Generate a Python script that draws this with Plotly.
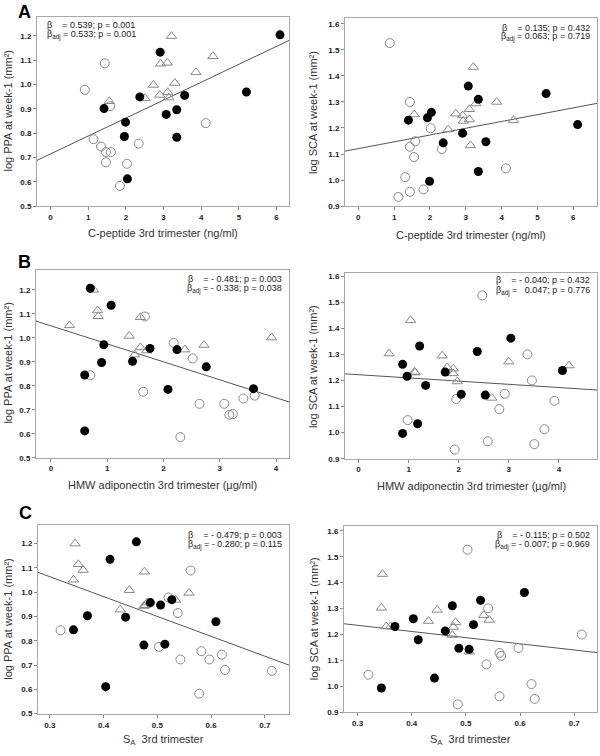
import plotly.graph_objects as go

# ---------------- data ----------------
# Panel A-left: C-peptide vs log PPA
a1_filled_x = [6.09, 2.91, 3.56, 2.37, 1.42, 1.99, 3.07, 3.35, 1.96, 3.35, 2.04, 5.20]
a1_filled_y = [1.204, 1.133, 0.955, 0.949, 0.901, 0.845, 0.877, 0.896, 0.786, 0.783, 0.612, 0.969]
a1_open_x = [0.91, 1.44, 1.58, 1.14, 1.34, 1.47, 1.60, 1.47, 2.03, 1.84, 2.34, 4.12]
a1_open_y = [0.978, 1.087, 0.911, 0.775, 0.745, 0.722, 0.722, 0.680, 0.674, 0.583, 0.757, 0.841]
a1_tri_x = [3.21, 2.92, 3.10, 4.31, 3.86, 2.73, 3.30, 3.11, 2.90, 3.14, 2.51, 1.56]
a1_tri_y = [1.199, 1.085, 1.089, 1.116, 1.050, 0.998, 1.006, 0.968, 0.957, 0.946, 0.943, 0.931]
a1_fit = (0.7145, 0.0737)  # intercept, slope

# Panel A-right: C-peptide vs log SCA
a2_filled_x = [1.40, 1.93, 2.04, 2.37, 2.91, 3.07, 3.35, 3.35, 3.56, 5.24, 6.12, 1.99]
a2_filled_y = [1.230, 1.239, 1.260, 1.143, 1.180, 1.361, 1.310, 1.033, 1.147, 1.332, 1.213, 0.995]
a2_open_x = [0.88, 1.44, 1.44, 1.59, 1.56, 1.31, 1.44, 1.12, 1.82, 2.02, 2.33, 4.12]
a2_open_y = [1.526, 1.300, 1.128, 1.149, 1.088, 1.011, 0.955, 0.935, 0.964, 1.199, 1.119, 1.045]
a2_tri_x = [3.21, 3.86, 3.28, 3.10, 2.72, 2.91, 2.93, 3.10, 4.33, 2.51, 1.56, 3.13]
a2_tri_y = [1.434, 1.300, 1.294, 1.272, 1.255, 1.248, 1.227, 1.233, 1.230, 1.194, 1.252, 1.133]
a2_fit = (1.1207, 0.0261)

# Panel B-left: HMW adiponectin vs log PPA
b1_filled_x = [0.70, 1.07, 0.94, 0.90, 0.60, 0.60, 1.45, 1.76, 2.08, 2.24, 2.76, 3.60]
b1_filled_y = [1.207, 1.136, 0.971, 0.897, 0.845, 0.612, 0.902, 0.956, 0.785, 0.951, 0.879, 0.788]
b1_open_x = [0.70, 1.67, 2.18, 2.52, 1.64, 2.64, 2.30, 3.08, 3.17, 3.23, 3.42, 3.62]
b1_open_y = [0.844, 1.089, 0.979, 0.914, 0.775, 0.725, 0.586, 0.725, 0.679, 0.682, 0.747, 0.759]
b1_tri_x = [0.76, 0.83, 0.84, 0.33, 1.59, 1.39, 1.59, 1.70, 1.49, 2.38, 2.72, 3.92]
b1_tri_y = [1.200, 1.114, 1.090, 1.052, 1.086, 1.008, 0.960, 0.947, 0.930, 0.951, 0.970, 1.001]
b1_fit = (1.050, -0.075)

# Panel B-right: HMW adiponectin vs log SCA
b2_filled_x = [1.22, 0.88, 0.97, 1.34, 1.73, 2.37, 3.04, 2.05, 2.53, 1.18, 0.88, 4.07]
b2_filled_y = [1.332, 1.262, 1.216, 1.181, 1.232, 1.311, 1.362, 1.147, 1.144, 1.034, 0.997, 1.238]
b2_open_x = [2.47, 3.37, 3.46, 2.92, 2.81, 1.95, 3.91, 3.71, 3.51, 2.58, 1.92, 0.98]
b2_open_y = [1.526, 1.300, 1.200, 1.149, 1.090, 1.129, 1.122, 1.013, 0.956, 0.967, 0.935, 1.048]
b2_tri_x = [0.61, 1.04, 1.67, 1.12, 1.13, 1.77, 1.89, 1.89, 1.97, 2.66, 3.00, 4.20]
b2_tri_y = [1.303, 1.431, 1.295, 1.233, 1.230, 1.250, 1.245, 1.227, 1.196, 1.133, 1.272, 1.257]
b2_fit = (1.222, -0.0123)

# Panel C-left: S_A vs log PPA
c1_filled_x = [0.461, 0.412, 0.370, 0.344, 0.441, 0.487, 0.506, 0.527, 0.475, 0.514, 0.404, 0.609]
c1_filled_y = [1.207, 1.135, 0.903, 0.845, 0.897, 0.957, 0.947, 0.969, 0.782, 0.786, 0.611, 0.878]
c1_open_x = [0.320, 0.562, 0.521, 0.538, 0.503, 0.543, 0.582, 0.597, 0.620, 0.626, 0.578, 0.713]
c1_open_y = [0.843, 1.089, 0.978, 0.914, 0.775, 0.723, 0.757, 0.723, 0.743, 0.680, 0.582, 0.676]
c1_tri_x = [0.347, 0.353, 0.362, 0.344, 0.448, 0.431, 0.476, 0.475, 0.481, 0.534, 0.559, 0.478]
c1_tri_y = [1.200, 1.115, 1.091, 1.051, 1.008, 0.928, 1.084, 0.943, 0.957, 0.968, 0.997, 0.946]
c1_fit = (1.309, -0.818)

# Panel C-right: S_A vs log SCA
c2_filled_x = [0.608, 0.527, 0.475, 0.403, 0.369, 0.514, 0.462, 0.412, 0.487, 0.506, 0.442, 0.344]
c2_filled_y = [1.362, 1.332, 1.311, 1.261, 1.231, 1.238, 1.214, 1.180, 1.147, 1.143, 1.032, 0.994]
c2_open_x = [0.503, 0.541, 0.714, 0.597, 0.562, 0.565, 0.538, 0.320, 0.621, 0.562, 0.627, 0.485]
c2_open_y = [1.527, 1.301, 1.200, 1.148, 1.129, 1.118, 1.085, 1.045, 1.009, 0.962, 0.952, 0.931]
c2_tri_x = [0.346, 0.344, 0.353, 0.361, 0.431, 0.447, 0.481, 0.477, 0.475, 0.533, 0.543, 0.506]
c2_tri_y = [1.433, 1.303, 1.231, 1.231, 1.252, 1.295, 1.247, 1.229, 1.198, 1.274, 1.256, 1.134]
c2_fit = (1.307, -0.238)

# statistics text
a1_stats = ("0.539; p = 0.001", "0.533; p = 0.001")
a2_stats = ("0.135; p = 0.432", "0.063; p = 0.719")
b1_stats = ("- 0.481; p = 0.003", "- 0.338; p = 0.038")
b2_stats = ("- 0.040; p = 0.432", "\u00a0\u00a00.047; p = 0.776")
c1_stats = ("- 0.479; p = 0.003", "- 0.280; p = 0.115")
c2_stats = ("- 0.115; p = 0.502", "- 0.007; p = 0.969")

x_title_cpep = "C-peptide 3rd trimester (ng/ml)"
x_title_adipo = "HMW adiponectin 3rd trimester (\u00b5g/ml)"
x_title_sa = "S<sub>A</sub>\u00a0\u00a03rd trimester"
y_title_ppa = "log PPA at week-1 (mm\u00b2)"
y_title_sca = "log SCA at week-1 (mm\u00b2)"

ticks_cpep = [0, 1, 2, 3, 4, 5, 6]
ticks_adipo = [0, 1, 2, 3, 4]
ticks_sa = [0.3, 0.4, 0.5, 0.6, 0.7]
ticks_ppa = [0.5, 0.6, 0.7, 0.8, 0.9, 1.0, 1.1, 1.2]
ticks_sca = [0.9, 1.0, 1.1, 1.2, 1.3, 1.4, 1.5, 1.6]

# ---------------- layout helpers ----------------
W, H = 600, 756
FONT = "Arial, 'Liberation Sans', sans-serif"

panels = [
    dict(px=(37, 289, 15, 206), xr=[-0.36, 6.33], yr=[0.5, 1.278],
         f=(a1_filled_x, a1_filled_y), o=(a1_open_x, a1_open_y), t=(a1_tri_x, a1_tri_y),
         fit=a1_fit, stats=a1_stats, side="left", sy=(23, 33),
         xt=x_title_cpep, yt=y_title_ppa, xtv=ticks_cpep, ytv=ticks_ppa, xty=233, ytx=8),
    dict(px=(345, 597, 16, 206), xr=[-0.37, 6.66], yr=[0.9, 1.623],
         f=(a2_filled_x, a2_filled_y), o=(a2_open_x, a2_open_y), t=(a2_tri_x, a2_tri_y),
         fit=a2_fit, stats=a2_stats, side="right", sy=(26, 35),
         xt=x_title_cpep, yt=y_title_sca, xtv=ticks_cpep, ytv=ticks_sca, xty=235, ytx=313),
    dict(px=(36, 289, 270, 460), xr=[-0.265, 4.23], yr=[0.5, 1.285],
         f=(b1_filled_x, b1_filled_y), o=(b1_open_x, b1_open_y), t=(b1_tri_x, b1_tri_y),
         fit=b1_fit, stats=b1_stats, side="right", sy=(280, 290),
         xt=x_title_adipo, yt=y_title_ppa, xtv=ticks_adipo, ytv=ticks_ppa, xty=488, ytx=8),
    dict(px=(345, 597, 274, 461), xr=[-0.27, 4.76], yr=[0.9, 1.61],
         f=(b2_filled_x, b2_filled_y), o=(b2_open_x, b2_open_y), t=(b2_tri_x, b2_tri_y),
         fit=b2_fit, stats=b2_stats, side="right", sy=(281, 292),
         xt=x_title_adipo, yt=y_title_sca, xtv=ticks_adipo, ytv=ticks_sca, xty=489, ytx=313),
    dict(px=(38, 289, 528, 719), xr=[0.278, 0.745], yr=[0.497, 1.276],
         f=(c1_filled_x, c1_filled_y), o=(c1_open_x, c1_open_y), t=(c1_tri_x, c1_tri_y),
         fit=c1_fit, stats=c1_stats, side="right", sy=(538, 548),
         xt=x_title_sa, yt=y_title_ppa, xtv=ticks_sa, ytv=ticks_ppa, xty=745, ytx=8),
    dict(px=(344, 597, 529, 717), xr=[0.275, 0.742], yr=[0.9, 1.618],
         f=(c2_filled_x, c2_filled_y), o=(c2_open_x, c2_open_y), t=(c2_tri_x, c2_tri_y),
         fit=c2_fit, stats=c2_stats, side="right", sy=(538, 548),
         xt=x_title_sa, yt=y_title_sca, xtv=ticks_sa, ytv=ticks_sca, xty=745, ytx=314),
]

fig = go.Figure()
layout = dict(
    width=W, height=H, margin=dict(l=0, r=0, t=0, b=0),
    paper_bgcolor="white", plot_bgcolor="white", showlegend=False,
    font=dict(family=FONT, color="#222"),
)
annotations = []

GRAY = "#8a8a8a"
for i, p in enumerate(panels, start=1):
    xa = "xaxis" if i == 1 else f"xaxis{i}"
    ya = "yaxis" if i == 1 else f"yaxis{i}"
    xref = "x" if i == 1 else f"x{i}"
    yref = "y" if i == 1 else f"y{i}"
    x0, x1, y0, y1 = p["px"]
    common = dict(showgrid=False, zeroline=False, showline=True, mirror=True,
                  linecolor="#a8a8a8", linewidth=1, ticks="outside", ticklen=3,
                  tickcolor="#888", tickwidth=1,
                  tickfont=dict(family=FONT, size=8, color="#222", weight="bold"))
    layout[xa] = dict(domain=[x0 / W, x1 / W], range=p["xr"], anchor=yref,
                      tickvals=p["xtv"], **common)
    layout[ya] = dict(domain=[1 - y1 / H, 1 - y0 / H], range=p["yr"], anchor=xref,
                      tickvals=p["ytv"], tickformat=".1f", **common)

    # regression line
    b0, b1 = p["fit"]
    lx = p["xr"]
    ly = [b0 + b1 * v for v in lx]
    fig.add_trace(go.Scatter(x=lx, y=ly, mode="lines", xaxis=xref, yaxis=yref,
                             line=dict(color="#555", width=1), hoverinfo="skip"))
    fig.add_trace(go.Scatter(x=p["o"][0], y=p["o"][1], mode="markers", xaxis=xref, yaxis=yref,
                             marker=dict(symbol="circle-open", size=9, color=GRAY,
                                         line=dict(width=1, color=GRAY))))
    fig.add_trace(go.Scatter(x=p["t"][0], y=p["t"][1], mode="markers", xaxis=xref, yaxis=yref,
                             marker=dict(symbol="triangle-up-open", size=9, color=GRAY,
                                         line=dict(width=1, color=GRAY))))
    fig.add_trace(go.Scatter(x=p["f"][0], y=p["f"][1], mode="markers", xaxis=xref, yaxis=yref,
                             marker=dict(symbol="circle", size=9, color="black")))

    s1, s2 = p["stats"]
    line1 = "\u03b2\u00a0\u00a0\u00a0\u00a0= " + s1
    line2 = "\u03b2<sub>adj</sub> = " + s2
    if p["side"] == "left":
        ax, anc = (x0 + 8) / W, "left"
    else:
        ax, anc = (x1 - 5) / W, "right"
    for txt, yy in zip((line1, line2), p["sy"]):
        annotations.append(dict(text=txt, x=ax, y=1 - yy / H, xref="paper", yref="paper",
                                xanchor=anc, yanchor="middle", showarrow=False, align="left",
                                font=dict(family=FONT, size=9, color="#222")))
    annotations.append(dict(text=p["xt"], x=(x0 + x1) / 2 / W, y=1 - p["xty"] / H,
                            xref="paper", yref="paper", xanchor="center", yanchor="middle",
                            showarrow=False, font=dict(family=FONT, size=11, color="#333")))
    annotations.append(dict(text=p["yt"], x=p["ytx"] / W, y=1 - (y0 + y1) / 2 / H,
                            xref="paper", yref="paper", xanchor="center", yanchor="middle",
                            textangle=-90, showarrow=False,
                            font=dict(family=FONT, size=11, color="#333")))

for letter, lx_, ly_ in (("A", 24, 10), ("B", 24, 262), ("C", 25, 516)):
    annotations.append(dict(text="<b>" + letter + "</b>", x=lx_ / W, y=1 - ly_ / H,
                            xref="paper", yref="paper", xanchor="center", yanchor="middle",
                            showarrow=False, font=dict(family=FONT, size=18, color="black")))

layout["annotations"] = annotations
fig.update_layout(**layout)
fig.write_html("out.html", config={"displayModeBar": False},
               post_script="document.body.style.margin='0';document.body.style.overflow='hidden';")
